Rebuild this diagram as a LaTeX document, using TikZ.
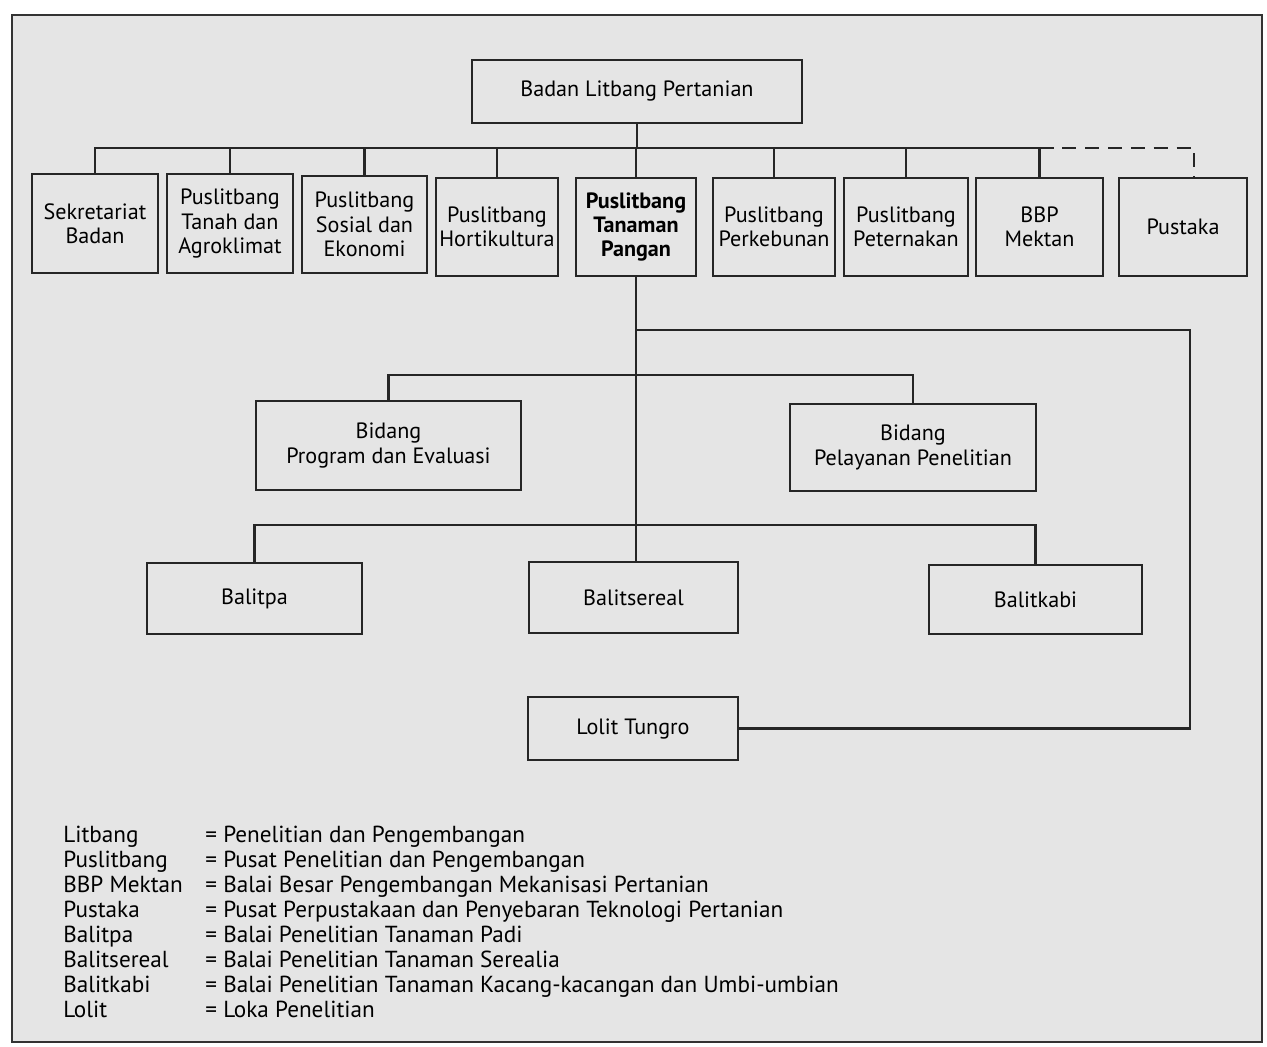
\documentclass[tikz,border=0pt]{standalone}
\usepackage{fontspec}
\setmainfont{PT Sans}
\begin{document}
\begin{tikzpicture}[x=0.02cm,y=-0.02cm,
  box/.style={draw=black!85,line width=1.6pt,fill=black!10,align=center,inner sep=1pt,font=\fontsize{12.6}{13.8}\selectfont},
  conn/.style={draw=black!85,line width=1.3pt},
  leg/.style={anchor=base west,inner sep=0pt,font=\fontsize{13.2}{14}\selectfont}]
\useasboundingbox (0,0) rectangle (1267,1046);
\fill[white] (0,0) rectangle (1267,1046);
\draw[fill=black!10,line width=1.3pt,draw=black!80] (12,15) rectangle (1262,1042);
% top
\node[box,minimum width=6.6cm,minimum height=1.26cm] (top) at (637,91.5) {Badan Litbang Pertanian};
% row 1
\node[box,minimum width=2.52cm,minimum height=1.98cm] (sek) at (95,223.5) {Sekretariat\\Badan};
\node[box,minimum width=2.52cm,minimum height=1.98cm] (tanah) at (230,223.5) {Puslitbang\\Tanah dan\\Agroklimat};
\node[box,minimum width=2.5cm,minimum height=1.94cm] (sosial) at (364.5,224.5) {Puslitbang\\Sosial dan\\Ekonomi};
\node[box,minimum width=2.44cm,minimum height=1.96cm] (horti) at (497,227) {Puslitbang\\Hortikultura};
\node[box,minimum width=2.4cm,minimum height=1.96cm,font=\fontsize{12.6}{13.8}\selectfont\bfseries] (pangan) at (636,227) {Puslitbang\\Tanaman\\Pangan};
\node[box,minimum width=2.44cm,minimum height=1.96cm] (kebun) at (774,227) {Puslitbang\\Perkebunan};
\node[box,minimum width=2.48cm,minimum height=1.96cm] (ternak) at (906,227) {Puslitbang\\Peternakan};
\node[box,minimum width=2.54cm,minimum height=1.96cm] (bbp) at (1039.5,227) {BBP\\Mektan};
\node[box,minimum width=2.56cm,minimum height=1.96cm] (pustaka) at (1183,227) {Pustaka};
% bidang
\node[box,minimum width=5.3cm,minimum height=1.78cm] (bpe) at (388.5,445.5) {Bidang\\Program dan Evaluasi};
\node[box,minimum width=4.92cm,minimum height=1.74cm] (bpp) at (913,447.5) {Bidang\\Pelayanan Penelitian};
% balai
\node[box,minimum width=4.3cm,minimum height=1.42cm] (balitpa) at (254.5,598.5) {Balitpa};
\node[box,minimum width=4.18cm,minimum height=1.42cm] (sereal) at (633.5,597.5) {Balitsereal};
\node[box,minimum width=4.26cm,minimum height=1.38cm] (kabi) at (1035.5,599.5) {Balitkabi};
\node[box,minimum width=4.2cm,minimum height=1.26cm] (lolit) at (633,728.5) {Lolit Tungro};
% coordinates
\coordinate (bus) at (95,148);
\coordinate (pd) at (1194,148);
\coordinate (j1) at (636,330);
\coordinate (rc) at (1190,330);
\coordinate (bb) at (390,375);
\coordinate (ab) at (256,525);
% connectors
\draw[conn] (top.south) -- (top.south |- bus);
\draw[conn] (sek.north) -- (sek.north |- bus) -- (bbp.north |- bus) -- (bbp.north);
\foreach \n in {tanah,sosial,horti,pangan,kebun,ternak}{\draw[conn] (\n.north) -- (\n.north |- bus);}
\draw[conn,dash pattern=on 8pt off 5pt] (bbp.north |- bus) -- (pd) -- (pd |- pustaka.north);
\draw[conn] (pangan.south) -- (pangan.south |- sereal.north);
\draw[conn] (j1) -- (rc) |- (lolit.east);
\draw[conn] (bpe.north) -- (bpe.north |- bb) -- (bpp.north |- bb) -- (bpp.north);
\draw[conn] (balitpa.north) -- (balitpa.north |- ab) -- (kabi.north |- ab) -- (kabi.north);
% legend
\foreach \y/\a/\b [count=\i] in {842/Litbang/Penelitian dan Pengembangan,
  867/Puslitbang/Pusat Penelitian dan Pengembangan,
  892/BBP Mektan/Balai Besar Pengembangan Mekanisasi Pertanian,
  917/Pustaka/Pusat Perpustakaan dan Penyebaran Teknologi Pertanian,
  942/Balitpa/Balai Penelitian Tanaman Padi,
  967/Balitsereal/Balai Penelitian Tanaman Serealia,
  992/Balitkabi/Balai Penelitian Tanaman Kacang-kacangan dan Umbi-umbian,
  1017/Lolit/Loka Penelitian}{
  \node[leg] (la\i) at (63,\y) {\a};
  \node[leg] (lb\i) at (205,\y) {= \b};
}
\end{tikzpicture}
\end{document}
